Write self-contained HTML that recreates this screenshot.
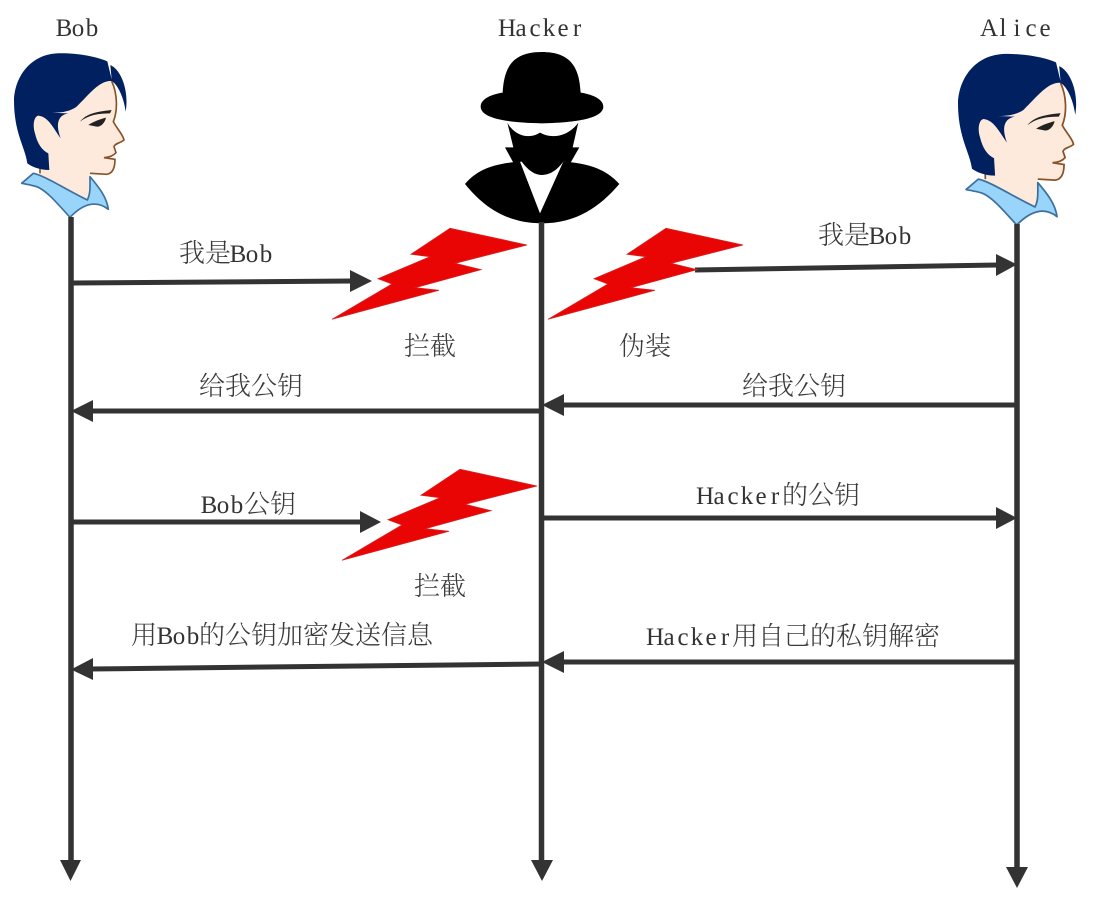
<!DOCTYPE html>
<html><head><meta charset="utf-8"><style>
html,body{margin:0;padding:0;background:#fff}
svg{display:block}
text{font-family:"Noto Serif CJK SC","Liberation Serif",serif;font-size:26px;font-weight:300;fill:#3a3a3a}
text.l{font-family:"Liberation Serif","Noto Serif CJK SC",serif;font-size:25px;font-weight:400;text-anchor:middle;fill:#333}
</style></head><body>
<svg width="1100" height="898" viewBox="0 0 1100 898" xmlns="http://www.w3.org/2000/svg">
<defs>
<g id="face">
<path d="M95,350 L140,335 L230,280 L330,235 C350,280 352,330 340,365 C350,385 370,405 372,420 C360,430 345,430 342,440 L348,458 L335,468 L345,478 C345,500 340,520 320,523 L270,520 L270,545 L265,600 L120,525 L118,500 L95,420 Z" fill="#fdeadd"/>
<path d="M335,243 C352,280 354,330 340,365 C350,385 370,405 372,420 C360,430 345,430 342,440 L348,458 C340,468 325,472 312,473 L345,478 C345,500 340,520 320,523 L270,520 M120,505 L120,520" fill="none" stroke="#8a5228" stroke-width="5"/>
<path d="M65,550 L100,520 C130,525 200,570 262,600 C272,580 270,560 270,530 C295,560 320,590 325,628 C290,600 250,610 210,652 C180,620 140,570 110,560 C95,555 80,553 65,550 Z" fill="#99d5fb" stroke="#3d6f9f" stroke-width="5" stroke-linejoin="round"/>
<path d="M42,300 C45,230 90,165 170,160 C230,158 290,170 322,184 L335,238 L331,195 C362,208 388,270 377,335 C372,295 355,255 335,243 C300,240 270,280 230,320 C210,335 180,340 145,338 L205,340 C175,345 165,370 182,415 C160,385 145,350 115,347 C100,350 98,380 105,400 C112,430 125,450 145,460 L148,510 C120,510 95,500 82,490 C75,440 42,400 42,300 Z" fill="#012060"/>
<path d="M240,365 C260,340 290,335 335,330 L330,340 C295,340 265,345 240,365 Z" fill="#222"/>
<path d="M265,375 C280,365 300,358 318,353 C315,370 300,382 290,380 Z" fill="#222"/>
</g>
<path id="bolt" d="M450,228.300 L527,245 L455,263.300 L481,269.700 L415,287.700 L439,290.300 L332,319.300 L392,284 L378,278.700 L430,256.700 L411,254.300 Z" fill="#ea0505" stroke="#d92020" stroke-width="0.8"/>
</defs>

<!-- faces -->
<g transform="scale(0.3333)"><use href="#face"/></g>
<g transform="translate(958,54) scale(0.35,0.3476) translate(-42,-160)"><use href="#face"/></g>

<!-- hacker -->
<g transform="translate(450,40) scale(0.3333)" fill="#000">
<path d="M92,200 C92,175 130,162 158,158 C162,85 185,36 275,36 C365,36 388,85 392,158 C420,162 460,175 460,200 C460,230 400,248 275,250 C150,248 92,230 92,200 Z"/>
<path d="M45,432 C80,390 130,370 210,365 L270,520 L340,365 C420,370 470,390 508,432 C450,500 380,550 275,550 C170,550 100,500 45,432 Z"/>
<path d="M172,248 C195,290 240,298 270,278 C305,298 355,290 385,248 L368,322 L388,322 L362,368 L340,365 C325,385 305,405 275,405 C250,405 230,385 215,365 L190,368 L165,322 L190,322 Z"/>
</g>

<!-- lifelines -->
<g stroke="#333" stroke-width="5.5" fill="none">
<path d="M71,217 V862"/>
<path d="M541.500,222 V862"/>
<path d="M1017,224 V869"/>
</g>
<g fill="#333">
<path d="M60,860 H81 L70.500,881 Z"/>
<path d="M531,860 H553 L542,881 Z"/>
<path d="M1006,867 H1028 L1017,888 Z"/>
</g>

<!-- arrows -->
<g stroke="#333" stroke-width="5" fill="none">
<path d="M73,283 L352,281"/>
<path d="M695,270 L998,265"/>
<path d="M540,411 L90,411"/>
<path d="M1017,405 L562,405"/>
<path d="M73,522 L362,522"/>
<path d="M543,518 L998,518"/>
<path d="M541,664 L90,669"/>
<path d="M1017,662 L562,662"/>
</g>
<g fill="#333">
<path d="M350,270 V292 L372,281 Z"/>
<path d="M996,254 V276 L1017,264.500 Z"/>
<path d="M93,400 V422 L71,411 Z"/>
<path d="M564,394 V416 L542,405 Z"/>
<path d="M360,511 V533 L381,522 Z"/>
<path d="M996,507 V529 L1017,518 Z"/>
<path d="M93,658 V680 L71,669.500 Z"/>
<path d="M564,651 V673 L542,662 Z"/>
</g>

<!-- bolts -->
<use href="#bolt"/>
<use href="#bolt" transform="translate(216,0)"/>
<use href="#bolt" transform="translate(10,241)"/>

<!-- labels -->
<text class="l" x="64 78 92" y="36">Bob</text>
<text class="l" x="507 521 535 549 563 577" y="36">Hacker</text>
<text class="l" x="989 1003 1017 1031 1045" y="36">Alice</text>
<text x="179" y="262">我是</text><text class="l" x="238 252 266" y="262">Bob</text>
<text x="818" y="244">我是</text><text class="l" x="877 891 905" y="244">Bob</text>
<text x="404" y="355">拦截</text>
<text x="619" y="355">伪装</text>
<text x="199" y="395">给我公钥</text>
<text x="742" y="395">给我公钥</text>
<text class="l" x="209 223 237" y="513">Bob</text><text x="244" y="513">公钥</text>
<text class="l" x="705 719 733 747 761 775" y="504">Hacker</text><text x="782" y="504">的公钥</text>
<text x="414" y="595">拦截</text>
<text x="131" y="644">用</text><text class="l" x="165 179 193" y="644">Bob</text><text x="199" y="644">的公钥加密发送信息</text>
<text class="l" x="655 669 683 697 711 725" y="645">Hacker</text><text x="732" y="645">用自己的私钥解密</text>
</svg>
</body></html>
